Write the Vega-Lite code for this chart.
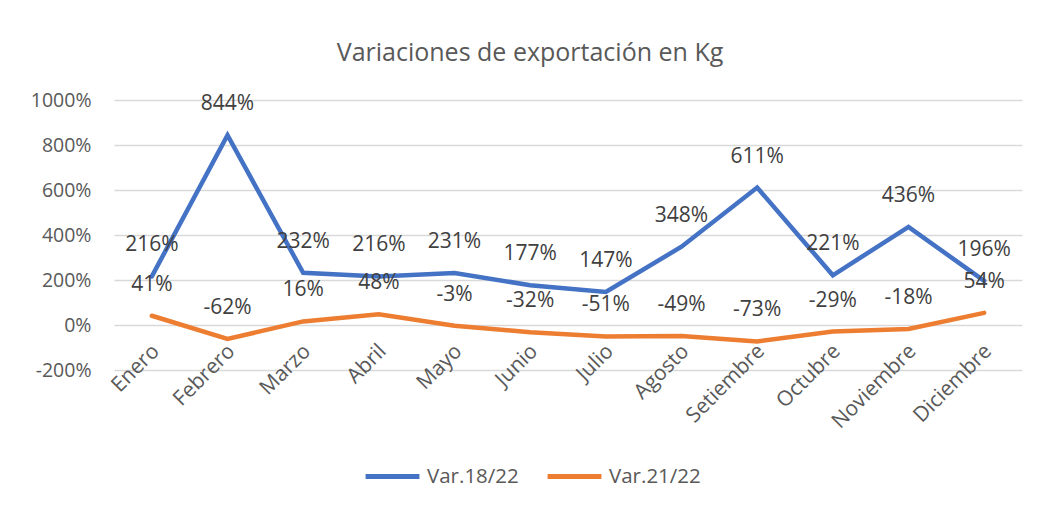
{
  "$schema": "https://vega.github.io/schema/vega-lite/v6.json",
  "width": 908,
  "height": 270,
  "autosize": {"type": "none"},
  "padding": {"left": 114, "top": 100, "right": 17, "bottom": 136},
  "background": "white",
  "title": {
    "text": "Variaciones de exportación en Kg",
    "font": "Open Sans",
    "fontSize": 25,
    "fontWeight": "normal",
    "color": "#595959",
    "anchor": "middle",
    "dx": -38,
    "offset": 24
  },
  "data": {
    "values": [
      {"mes": "Enero", "serie": "Var.18/22", "valor": 2.16},
      {"mes": "Febrero", "serie": "Var.18/22", "valor": 8.44},
      {"mes": "Marzo", "serie": "Var.18/22", "valor": 2.32},
      {"mes": "Abril", "serie": "Var.18/22", "valor": 2.16},
      {"mes": "Mayo", "serie": "Var.18/22", "valor": 2.31},
      {"mes": "Junio", "serie": "Var.18/22", "valor": 1.77},
      {"mes": "Julio", "serie": "Var.18/22", "valor": 1.47},
      {"mes": "Agosto", "serie": "Var.18/22", "valor": 3.48},
      {"mes": "Setiembre", "serie": "Var.18/22", "valor": 6.11},
      {"mes": "Octubre", "serie": "Var.18/22", "valor": 2.21},
      {"mes": "Noviembre", "serie": "Var.18/22", "valor": 4.36},
      {"mes": "Diciembre", "serie": "Var.18/22", "valor": 1.96},
      {"mes": "Enero", "serie": "Var.21/22", "valor": 0.41},
      {"mes": "Febrero", "serie": "Var.21/22", "valor": -0.62},
      {"mes": "Marzo", "serie": "Var.21/22", "valor": 0.16},
      {"mes": "Abril", "serie": "Var.21/22", "valor": 0.48},
      {"mes": "Mayo", "serie": "Var.21/22", "valor": -0.03},
      {"mes": "Junio", "serie": "Var.21/22", "valor": -0.32},
      {"mes": "Julio", "serie": "Var.21/22", "valor": -0.51},
      {"mes": "Agosto", "serie": "Var.21/22", "valor": -0.49},
      {"mes": "Setiembre", "serie": "Var.21/22", "valor": -0.73},
      {"mes": "Octubre", "serie": "Var.21/22", "valor": -0.29},
      {"mes": "Noviembre", "serie": "Var.21/22", "valor": -0.18},
      {"mes": "Diciembre", "serie": "Var.21/22", "valor": 0.54}
    ]
  },
  "encoding": {
    "x": {
      "field": "mes",
      "type": "ordinal",
      "sort": null,
      "scale": {"type": "point", "padding": 0.5},
      "axis": {
        "title": null,
        "domain": false,
        "ticks": false,
        "grid": false,
        "labelAngle": -45,
        "labelFont": "Open Sans",
        "labelFontSize": 21,
        "labelColor": "#595959",
        "labelPadding": 15,
        "labelOffset": -4,
        "offset": -45
      }
    },
    "y": {
      "field": "valor",
      "type": "quantitative",
      "scale": {"domain": [-2, 10], "nice": false},
      "axis": {
        "title": null,
        "values": [-2, 0, 2, 4, 6, 8, 10],
        "format": ".0%",
        "domain": false,
        "ticks": false,
        "grid": true,
        "gridColor": "#D9D9D9",
        "gridWidth": 1.3,
        "labelFont": "Open Sans",
        "labelFontSize": 19.5,
        "labelColor": "#595959",
        "labelPadding": 23
      }
    }
  },
  "layer": [
    {
      "mark": {"type": "line", "strokeWidth": 4.5, "strokeCap": "round"},
      "encoding": {
        "color": {
          "field": "serie",
          "type": "nominal",
          "scale": {"domain": ["Var.18/22", "Var.21/22"], "range": ["#4472C4", "#ED7D31"]},
          "legend": {
            "title": null,
            "orient": "none",
            "legendX": 249,
            "legendY": 347,
            "direction": "horizontal",
            "symbolType": "stroke",
            "symbolStrokeWidth": 5,
            "symbolSize": 2900,
            "labelFont": "Open Sans",
            "labelFontSize": 20.5,
            "labelColor": "#595959",
            "labelOffset": 5,
            "columnPadding": 18
          }
        }
      }
    },
    {
      "mark": {"type": "text", "dy": -31, "font": "Open Sans", "fontSize": 21, "color": "#404040"},
      "encoding": {
        "text": {"field": "valor", "type": "quantitative", "format": ".0%"}
      }
    }
  ],
  "config": {
    "view": {"stroke": null},
    "locale": {
      "number": {
        "decimal": ".",
        "thousands": ",",
        "grouping": [3],
        "currency": ["$", ""],
        "minus": "-"
      }
    }
  }
}
